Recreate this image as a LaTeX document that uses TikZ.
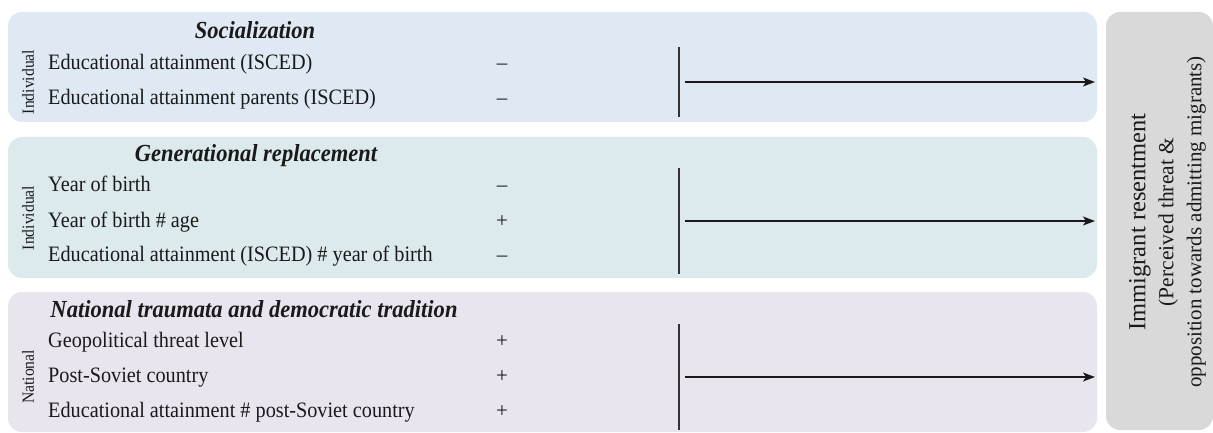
\documentclass[tikz,border=0pt]{standalone}
\usepackage{fontspec}
\setmainfont{Liberation Serif}
\newfontfamily\narrowserif[FakeStretch=0.92]{Liberation Serif}
\usetikzlibrary{arrows.meta}
\definecolor{socfill}{HTML}{DEE9F4}
\definecolor{genfill}{HTML}{DCEAEE}
\definecolor{natfill}{HTML}{E9E5EE}
\definecolor{resfill}{HTML}{D9D9D9}
\definecolor{ink}{HTML}{1A1A1A}
\tikzset{
  panel/.style={rounded corners=14pt},
  title/.style={anchor=base, inner sep=0, text=ink, font=\narrowserif\fontsize{24.5}{28}\selectfont\bfseries\itshape},
  var/.style={anchor=base west, inner sep=0, text=ink, font=\narrowserif\fontsize{22}{26}\selectfont},
  sign/.style={anchor=base, inner sep=0, text=ink, font=\fontsize{21}{26}\selectfont},
  level/.style={rotate=90, inner sep=0, text=ink, font=\narrowserif\fontsize{17}{20}\selectfont},
  resbox/.style={rotate=90, fill=resfill, rounded corners=14pt, minimum width=418pt, minimum height=107pt},
  effect/.style={-{Stealth[length=12pt,width=9pt,inset=3pt]}, line width=1.4pt, ink},
  bar/.style={line width=2pt, black!80}
}
\begin{document}
\begin{tikzpicture}[x=1pt,y=-1pt]
  \useasboundingbox (0,0) rectangle (1213,433);
  % panels
  \fill[socfill, panel] (8,12) rectangle (1097,122);
  \fill[genfill, panel] (8,137) rectangle (1097,278);
  \fill[natfill, panel] (8,292) rectangle (1097,432);
  \node[resbox] (res) at (1159.5,221) {};
  \node[rotate=90, align=center, inner sep=0, text=ink, font=\fontsize{21}{28}\selectfont] (restext) at (1167.5,222)
    {{\fontsize{24.5}{28}\selectfont Immigrant resentment}\\{\fontsize{21.5}{28}\selectfont(Perceived threat \&}\\opposition towards admitting migrants)};

  % socialization
  \node[title] (soc) at (255,39) {Socialization};
  \node[level] (socind) at (28,82) {Individual};
  \node[var] (edu) at (48,70) {Educational attainment (ISCED)};
  \node[var] (edupar) at (48,105) {Educational attainment parents (ISCED)};
  \node[sign] (edus) at (502,70) {--};
  \node[sign] (edupars) at (502,105) {--};
  \coordinate (soctop) at (679,47);
  \coordinate (socbot) at (679,117);
  \coordinate (socfrom) at (685,82);
  \coordinate (socto) at (1095,82);
  \draw[bar] (soctop) -- (socbot);
  \draw[effect] (socfrom) -- (socto);

  % generational replacement
  \node[title] (gen) at (256,161) {Generational replacement};
  \node[level] (genind) at (28,218) {Individual};
  \node[var] (yob) at (48,191) {Year of birth};
  \node[var] (yobage) at (48,227) {Year of birth \# age};
  \node[var] (eduyob) at (48,261) {Educational attainment (ISCED) \# year of birth};
  \node[sign] (yobs) at (502,191) {--};
  \node[sign] (yobages) at (502,227) {+};
  \node[sign] (eduyobs) at (502,261) {--};
  \coordinate (gentop) at (679,168);
  \coordinate (genbot) at (679,274);
  \coordinate (genfrom) at (685,221);
  \coordinate (gento) at (1095,221);
  \draw[bar] (gentop) -- (genbot);
  \draw[effect] (genfrom) -- (gento);

  % national traumata
  \node[title] (nat) at (254,317) {National traumata and democratic tradition};
  \node[level] (natlev) at (28,377) {National};
  \node[var] (geo) at (48,347) {Geopolitical threat level};
  \node[var] (sov) at (48,382) {Post-Soviet country};
  \node[var] (edusov) at (48,417) {Educational attainment \# post-Soviet country};
  \node[sign] (geos) at (502,347) {+};
  \node[sign] (sovs) at (502,382) {+};
  \node[sign] (edusovs) at (502,417) {+};
  \coordinate (nattop) at (679,324);
  \coordinate (natbot) at (679,430);
  \coordinate (natfrom) at (685,377);
  \coordinate (natto) at (1095,377);
  \draw[bar] (nattop) -- (natbot);
  \draw[effect] (natfrom) -- (natto);
\end{tikzpicture}
\end{document}
